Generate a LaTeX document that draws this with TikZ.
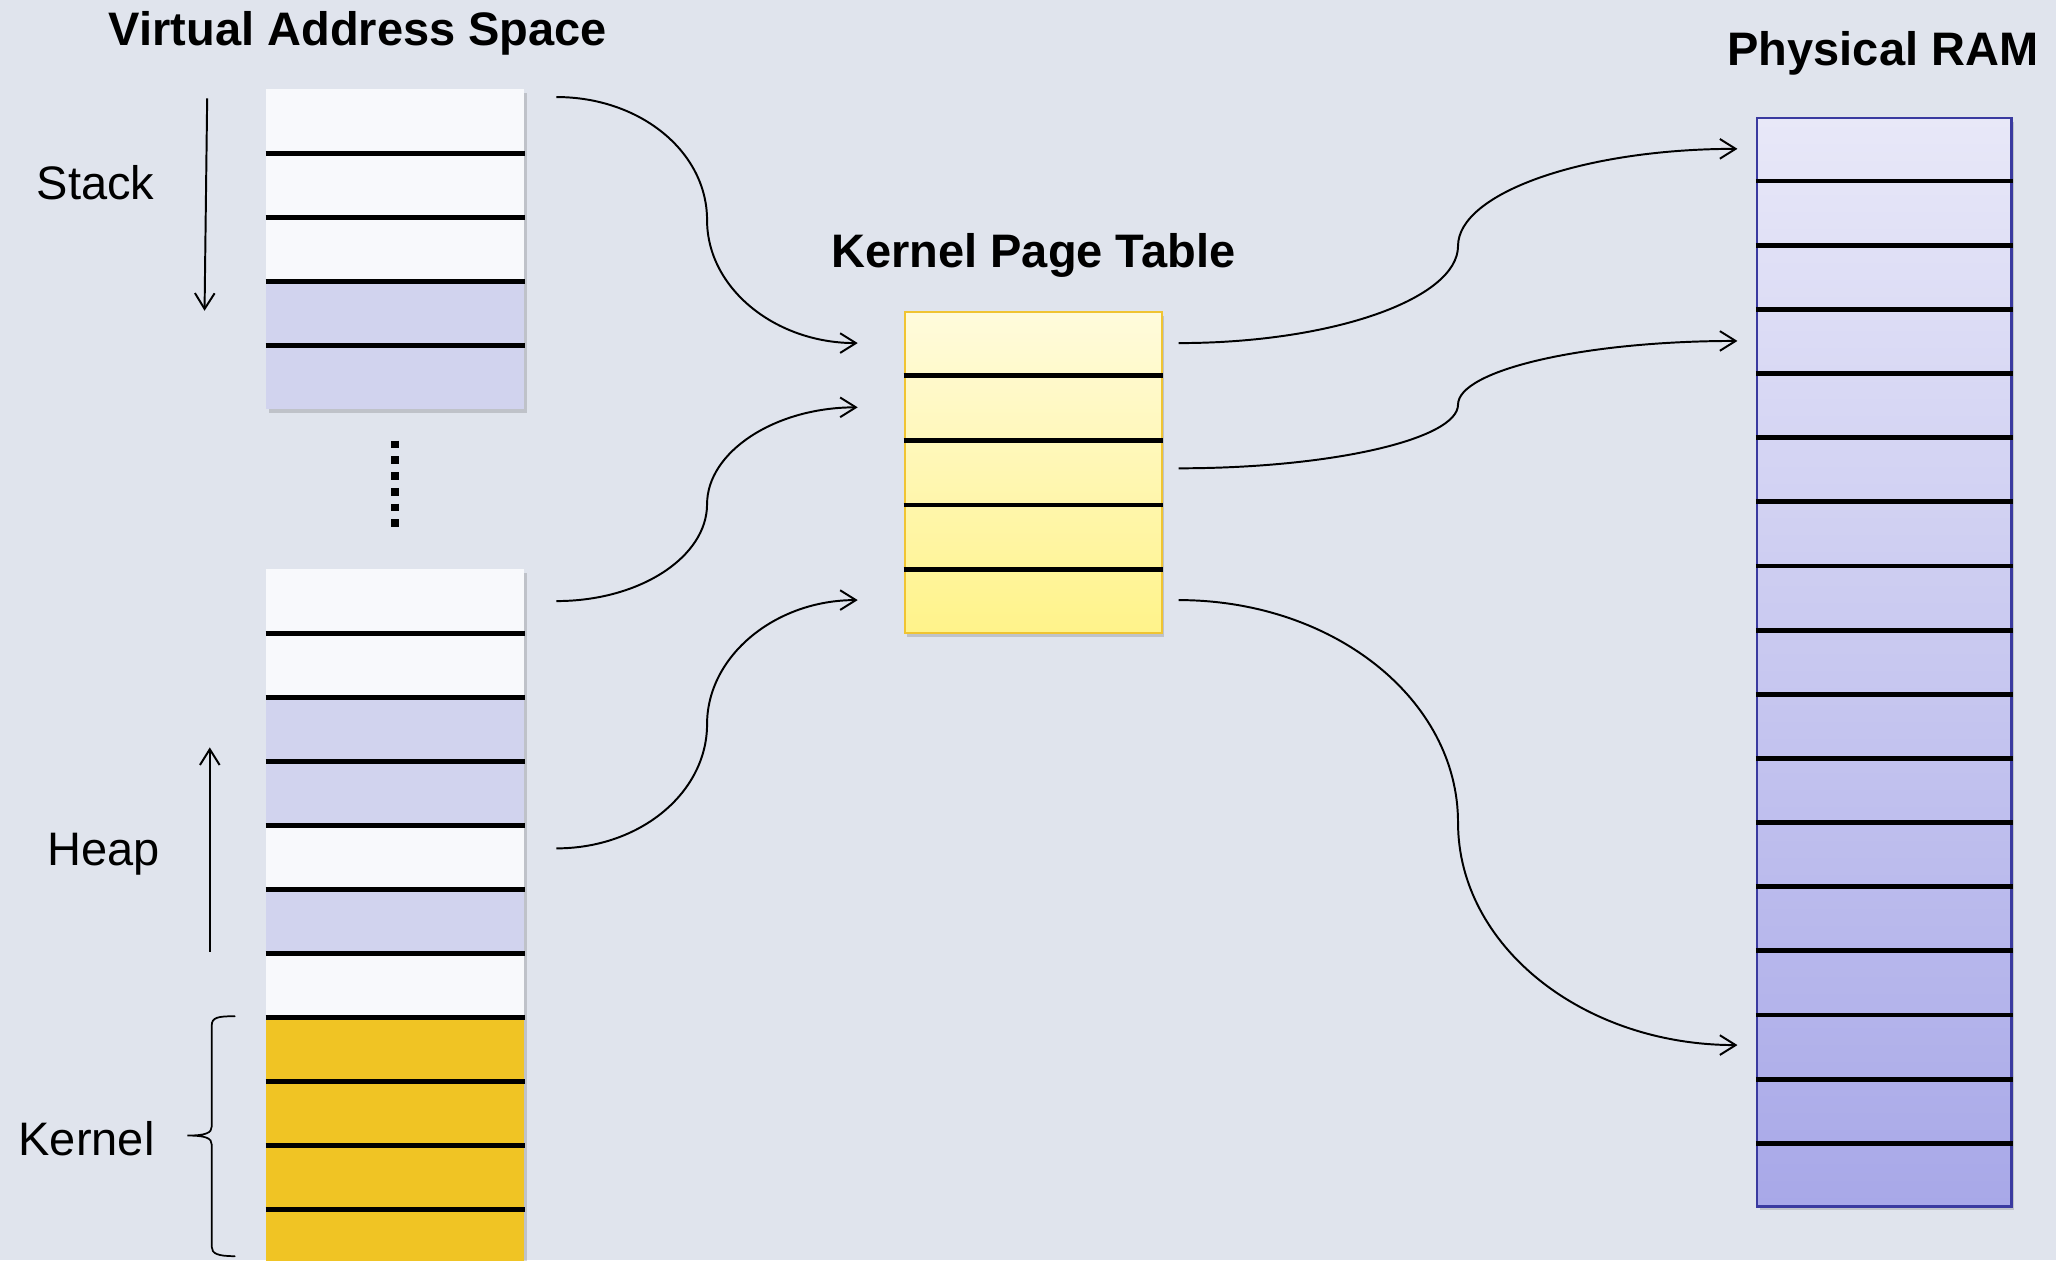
\documentclass[tikz,border=0pt]{standalone}
\usepackage{fontspec}
\setmainfont{Liberation Sans}
\usetikzlibrary{arrows.meta,calc,shadows}
\definecolor{bg}{RGB}{224,228,237}
\definecolor{cellw}{RGB}{248,249,252}
\definecolor{celll}{RGB}{209,211,238}
\definecolor{kern}{RGB}{240,196,36}
\definecolor{kptTop}{RGB}{255,251,220}
\definecolor{kptBot}{RGB}{255,243,138}
\definecolor{kptBorder}{RGB}{240,196,50}
\definecolor{ramTop}{RGB}{232,232,248}
\definecolor{ramBot}{RGB}{168,168,232}
\definecolor{ramBorder}{RGB}{58,58,160}
\begin{document}
\begin{tikzpicture}[x=0.02cm,y=-0.02cm,
  font=\fontsize{20.4}{24}\selectfont,
  shad/.style={drop shadow={shadow xshift=0.04cm,shadow yshift=-0.06cm,opacity=0.22,fill=black!70}},
  cell/.style={draw=none,inner sep=0pt,minimum width=3.94cm,minimum height=0.976cm,shad},
  wcell/.style={cell,fill=cellw},
  lcell/.style={cell,fill=celll},
  kcell/.style={cell,fill=kern},
  sep/.style={line width=2.1pt,black},
  conn/.style={line width=0.85pt,-{Straight Barb[length=0.24cm,width=0.3cm,line width=0.85pt]}},
  title/.style={font=\fontsize{20.4}{24}\selectfont\bfseries},
  label/.style={anchor=base,inner sep=0pt}
]
\useasboundingbox (0,0) rectangle (1568,961);
\fill[bg] (0,0) rectangle (1568,961);
\clip (0,0) rectangle (1568,961);

% titles
\node[title,label] (tvas) at (273,35) {Virtual Address Space};
\node[title,label] (tkpt) at (788,204) {Kernel Page Table};
\node[title,label] (tram) at (1436,50) {Physical RAM};

% stack
\foreach \i/\st in {1/wcell,2/wcell,3/wcell,4/lcell,5/lcell}
  \node[\st] (s\i) at (301.5,{68+48.8*(\i-0.5)}) {};
\foreach \i in {1,...,4}
  \draw[sep] (s\i.south west) -- (s\i.south east);

% dots
\coordinate (d1) at (301.5,336);
\coordinate (d2) at (301.5,406);
\draw[line width=0.12cm,dash pattern=on 0.12cm off 0.12cm] (d1) -- (d2);

% heap + kernel
\foreach \i/\st in {1/wcell,2/wcell,3/lcell,4/lcell,5/wcell,6/lcell,7/wcell,8/kcell,9/kcell,10/kcell,11/kcell}
  \node[\st] (h\i) at (301.5,{434+48.8*(\i-0.5)}) {};
\foreach \i in {1,...,10}
  \draw[sep] (h\i.south west) -- (h\i.south east);

% kernel page table
\node[draw=kptBorder,line width=1pt,top color=kptTop,bottom color=kptBot,
      minimum width=3.92cm,minimum height=4.9cm,inner sep=0pt,shad] (kpt) at (788,360.5) {};
\foreach \i in {1,...,4}
  \draw[sep] ($(kpt.north west)!\i/5!(kpt.south west)$) -- ($(kpt.north east)!\i/5!(kpt.south east)$);

% physical RAM
\node[draw=ramBorder,line width=1.1pt,top color=ramTop,bottom color=ramBot,
      minimum width=3.88cm,minimum height=16.6cm,inner sep=0pt,shad] (ram) at (1437,505) {};
\foreach \i in {1,...,16}
  \draw[sep] ($(ram.north west)!\i/17!(ram.south west)$) -- ($(ram.north east)!\i/17!(ram.south east)$);

% labels
\node[label] (lstack) at (73,152) {Stack};
\node[label] (lheap) at (79,660) {Heap};
\node[label] (lkern) at (66,881) {Kernel};

\coordinate (sa1) at (158,75);
\coordinate (sa2) at (156,237);
\draw[conn] (sa1) -- (sa2);
\coordinate (ha1) at (160,726);
\coordinate (ha2) at (160,570);
\draw[conn] (ha1) -- (ha2);

% brace
\coordinate (br1) at (179,775);
\coordinate (br2) at (143,866);
\coordinate (br3) at (179,958);
\draw[line width=0.75pt,line cap=round]
  (br1) .. controls (166,775) and (161.5,776) .. (161.5,782) -- (161.5,859)
        .. controls (161.5,864) and (157,866) .. (br2)
        .. controls (157,866) and (161.5,868) .. (161.5,873) -- (161.5,951)
        .. controls (161.5,956) and (166,958) .. (br3);

% connectors: virtual -> kernel page table
\coordinate (p1s) at ($(s1.east)+(24,-18.4)$);
\coordinate (p1e) at ($(kpt.north west)+(-35,24.5)$);
\coordinate (p1m) at ($(p1s)!0.5!(p1e)$);
\draw[conn] (p1s) .. controls +(64,0) and +(0,-52) .. (p1m) .. controls +(0,52) and +(-63,0) .. (p1e);

\coordinate (p2s) at ($(h1.east)+(24,0)$);
\coordinate (p2e) at ($(kpt.north west)+(-35,73.5)$);
\coordinate (p2m) at ($(p2s)!0.5!(p2e)$);
\draw[conn] (p2s) .. controls +(64,0) and +(0,40) .. (p2m) .. controls +(0,-40) and +(-63,0) .. (p2e);

\coordinate (p3s) at ($(h5.east)+(24,-6.6)$);
\coordinate (p3e) at ($(kpt.north west)+(-35,220.5)$);
\coordinate (p3m) at ($(p3s)!0.5!(p3e)$);
\draw[conn] (p3s) .. controls +(64,0) and +(0,52) .. (p3m) .. controls +(0,-52) and +(-63,0) .. (p3e);

% connectors: kernel page table -> physical RAM
\coordinate (q1s) at ($(kpt.north east)+(12,24.5)$);
\coordinate (q1e) at ($(ram.north west)+(-14,24.4)$);
\coordinate (q1m) at ($(q1s)!0.5!(q1e)$);
\draw[conn] (q1s) .. controls +(118,0) and +(0,40) .. (q1m) .. controls +(0,-40) and +(-118,0) .. (q1e);

\coordinate (q2s) at ($(kpt.north east)+(12,120)$);
\coordinate (q2e) at ($(ram.north west)+(-14,170.9)$);
\coordinate (q2m) at ($(q2s)!0.5!(q2e)$);
\draw[conn] (q2s) .. controls +(118,0) and +(0,26) .. (q2m) .. controls +(0,-26) and +(-118,0) .. (q2e);

\coordinate (q3s) at ($(kpt.north east)+(12,220.5)$);
\coordinate (q3e) at ($(ram.north west)+(-14,707.9)$);
\coordinate (q3m) at ($(q3s)!0.5!(q3e)$);
\draw[conn] (q3s) .. controls +(118,0) and +(0,-94) .. (q3m) .. controls +(0,94) and +(-118,0) .. (q3e);
\end{tikzpicture}
\end{document}
